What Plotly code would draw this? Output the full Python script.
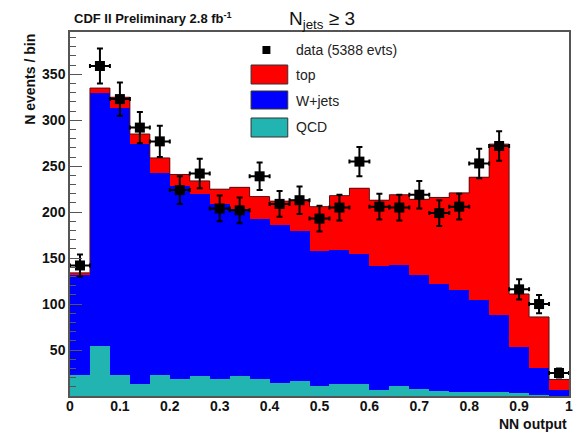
import numpy as np
import plotly.graph_objects as go

# ---- data ----
bin_centers = [0.02, 0.06, 0.10, 0.14, 0.18, 0.22, 0.26, 0.30, 0.34, 0.38,
               0.42, 0.46, 0.50, 0.54, 0.58, 0.62, 0.66, 0.70, 0.74, 0.78,
               0.82, 0.86, 0.90, 0.94, 0.98]
bin_width = 0.04

qcd = [23, 54, 23, 13, 23, 18, 22, 18, 22, 18, 14, 16, 11, 13, 13, 7, 11, 8,
       5, 4.5, 4, 4, 3, 1, 0]
wjets = [109, 276, 290, 261, 220, 211, 198, 191, 181, 175, 172, 164, 147, 146,
         142, 134, 132, 124, 117, 110.5, 100, 84, 50, 29, 6.5]
top = [2, 5, 12, 11, 16, 12, 14, 16, 24, 24, 26, 33, 48, 59, 71, 72, 76, 82,
       94, 106, 134, 186, 58, 56, 11.5]

data = [142, 359, 323, 292, 277, 224, 242, 204, 202, 239, 209, 213, 193, 205,
        255, 206, 205, 219, 199, 206, 253, 272, 116, 100, 25]
data_err = [12, 19, 18, 17, 17, 15, 16, 14, 14, 15, 14, 15, 14, 14, 16, 14, 14,
            15, 14, 14, 16, 16, 11, 10, 5]

x_ticks = [0, 0.1, 0.2, 0.3, 0.4, 0.5, 0.6, 0.7, 0.8, 0.9, 1.0]
x_ticktext = ["0", "0.1", "0.2", "0.3", "0.4", "0.5", "0.6", "0.7", "0.8", "0.9", "1"]
y_ticks = [50, 100, 150, 200, 250, 300, 350]

legend_labels = ["data (5388 evts)", "top", "W+jets", "QCD"]

RED = "#ff0000"
BLUE = "#0000ff"
CYAN = "#22b4b0"

fig = go.Figure()

for vals, col, name in [(qcd, CYAN, "QCD"), (wjets, BLUE, "W+jets"), (top, RED, "top")]:
    fig.add_trace(go.Bar(x=bin_centers, y=vals, width=bin_width, name=name,
                         marker=dict(color=col, line=dict(width=0)),
                         showlegend=False, hoverinfo="skip"))

# outline of the full stack (step)
total = np.array(qcd) + np.array(wjets) + np.array(top)
edges = np.round(np.array(bin_centers) - bin_width / 2, 3).tolist() + [1.0]
fig.add_trace(go.Scatter(x=edges, y=total.tolist() + [total[-1]], mode="lines",
                         line=dict(color="#5a1010", width=1, shape="hv"),
                         showlegend=False, hoverinfo="skip"))

fig.add_trace(go.Scatter(
    x=bin_centers, y=data, mode="markers",
    marker=dict(symbol="square", size=10, color="black"),
    error_y=dict(type="data", array=data_err, color="black", thickness=2, width=3),
    error_x=dict(type="data", array=[bin_width / 2] * len(bin_centers),
                 color="black", thickness=2, width=2),
    showlegend=False, name="data"))

# plot-area geometry in px (for legend placement helpers)
L, R, T, B = 70, 7, 32, 37
W, H = 580, 433
pw, ph = W - L - R, H - T - B


def px(xp):
    return (xp - L) / pw


def py(yp):
    return (H - B - yp) / ph


shapes = []
annotations = []
# legend: data marker
shapes.append(dict(type="rect", xref="paper", yref="paper",
                   x0=px(264), x1=px(272), y0=py(54), y1=py(46),
                   fillcolor="black", line=dict(width=0)))
box_cols = [RED, BLUE, CYAN]
box_rows = [(65, 84), (91, 109), (118, 137)]
for col, (y0, y1) in zip(box_cols, box_rows):
    shapes.append(dict(type="rect", xref="paper", yref="paper",
                       x0=px(252.5), x1=px(289.5), y0=py(y1), y1=py(y0),
                       fillcolor=col, line=dict(color="#333333", width=1)))
text_rows = [50, 75, 100.5, 127.5]
for lab, yy in zip(legend_labels, text_rows):
    annotations.append(dict(text=lab, xref="paper", yref="paper", x=px(296), y=py(yy),
                            xanchor="left", yanchor="middle", showarrow=False,
                            font=dict(size=14, color="#222222", family="Liberation Sans")))

annotations.append(dict(text="CDF II Preliminary 2.8 fb<sup>-1</sup>", xref="paper", yref="paper",
                        x=px(72), y=py(18), xanchor="left", yanchor="middle", showarrow=False,
                        font=dict(size=13, color="#111111", family="Liberation Sans", weight="bold")))
annotations.append(dict(text="N<sub>jets</sub> ≥ 3", xref="paper", yref="paper",
                        x=px(289), y=py(20), xanchor="left", yanchor="middle", showarrow=False,
                        font=dict(size=19, color="#111111", family="Liberation Sans")))
annotations.append(dict(text="N events / bin", xref="paper", yref="paper",
                        x=px(29), y=1.0, xanchor="center", yanchor="top", textangle=-90,
                        showarrow=False,
                        font=dict(size=14, color="#111111", family="Liberation Sans", weight="bold")))
annotations.append(dict(text="NN output", xref="paper", yref="paper",
                        x=1.0, y=py(424), xanchor="right", yanchor="middle", showarrow=False,
                        font=dict(size=14, color="#111111", family="Liberation Sans", weight="bold")))

fig.update_layout(
    width=W, height=H,
    margin=dict(l=L, r=R, t=T, b=B),
    paper_bgcolor="white", plot_bgcolor="white",
    barmode="stack", bargap=0,
    shapes=shapes, annotations=annotations,
    font=dict(family="Liberation Sans", color="#111111"),
    xaxis=dict(range=[0, 1], tickvals=x_ticks, ticktext=x_ticktext,
               showgrid=False, zeroline=False, showline=True, mirror=True,
               linecolor="#555555", linewidth=1.5, ticks="", ticklabelstandoff=-4,
               tickfont=dict(size=14, family="Liberation Sans", weight="bold", color="#111111")),
    yaxis=dict(range=[0, 396], tickvals=y_ticks, showgrid=False, zeroline=False,
               showline=True, mirror=True, linecolor="#555555", linewidth=1.5,
               ticks="inside", ticklen=12, tickwidth=1, tickcolor="#555555",
               minor=dict(dtick=10, ticks="inside", ticklen=6, tickcolor="#555555", tickwidth=1),
               tickfont=dict(size=14, family="Liberation Sans", weight="bold", color="#111111")),
)

fig.write_html("out.html", config={"displayModeBar": False},
               post_script="document.body.style.margin='0';document.body.style.padding='0';")
